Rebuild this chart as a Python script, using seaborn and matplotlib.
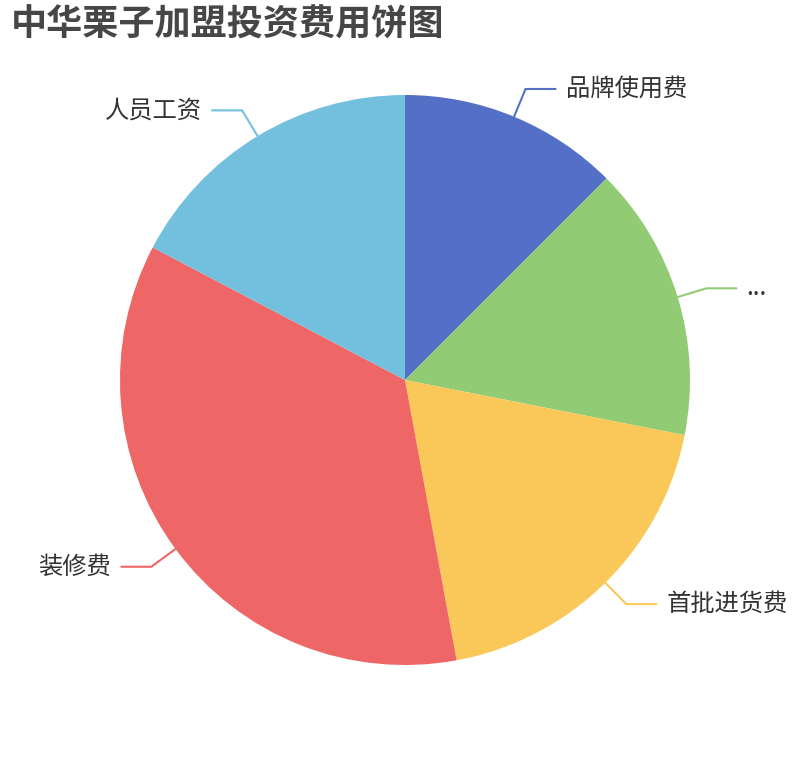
import numpy as np
import seaborn as sns
import matplotlib.pyplot as plt

# slice values (share of total)
names = ['品牌使用费', '...', '首批进货费', '装修费', '人员工资']
values = [12.5, 15.6, 19.0, 35.6, 17.3]
colors = ['#5470c6', '#91cc75', '#fac858', '#ee6666', '#73c0de']

sns.set_theme(style='white')
plt.rcParams['font.family'] = ['Noto Sans CJK SC', 'DejaVu Sans']

W, H = 810, 760
fig = plt.figure(figsize=(W / 100, H / 100), dpi=100)
ax = fig.add_axes([0, 0, 1, 1])

cx, cy, r = 405, H - 380, 285
wedges, _ = ax.pie(values, colors=sns.color_palette(colors), startangle=90,
                   counterclock=False, center=(cx, cy), radius=r,
                   wedgeprops=dict(linewidth=0))

for w, name, col in zip(wedges, names, colors):
    mid = np.deg2rad((w.theta1 + w.theta2) / 2)
    c, s = np.cos(mid), np.sin(mid)
    x0, y0 = cx + r * c, cy + r * s
    x1, y1 = cx + (r + 30) * c, cy + (r + 30) * s
    side = 1 if c >= 0 else -1
    x2 = x1 + 30 * side
    ax.plot([x0, x1, x2], [y0, y1, y1], color=col, lw=1.5,
            solid_joinstyle='miter')
    ax.text(x2 + 10 * side, y1, name, ha='left' if side > 0 else 'right',
            va='center', fontsize=17.5, color='#333333')

ax.set_xlim(0, W)
ax.set_ylim(0, H)
ax.set_aspect('equal')
ax.axis('off')

fig.text(11 / W, 1 - 25 / H, '中华栗子加盟投资费用饼图', fontsize=26,
         fontweight='bold', color='#464646', ha='left', va='center')

fig.savefig('out.png', dpi=100)
